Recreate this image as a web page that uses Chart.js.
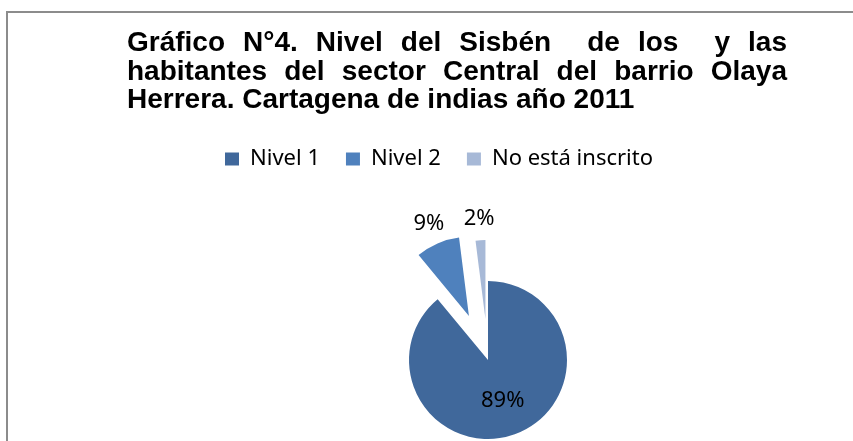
<!DOCTYPE html>
<html>

<head>
    <meta charset="utf-8">
    <title>Gráfico N°4. Nivel del Sisbén</title>
    <script src="https://cdn.jsdelivr.net/npm/chart.js@4.4.0/dist/chart.umd.min.js"></script>
    <style>
        html, body { margin: 0; padding: 0; width: 853px; height: 441px; overflow: hidden; background: #fff; }
        #frame { position: absolute; left: 6px; top: 11px; width: 900px; height: 500px; border: 2px solid #8c8c8c; box-sizing: border-box; }
        #title { position: absolute; left: 127px; top: 28px; width: 660px;
                 font: bold 28px "Liberation Sans", Arial, sans-serif; line-height: 28.5px; color: #000; z-index: 2; }
        #title div { white-space: pre-wrap; }
        #title .j { text-align: justify; text-align-last: justify; }
        #wrap { position: absolute; left: 0; top: 0; width: 853px; height: 560px; }
    </style>
</head>

<body>
    <div id="frame"></div>
    <div id="title">
        <div class="j">Gráfico N°4. Nivel del Sisbén  de los  y las</div>
        <div class="j">habitantes del sector Central del barrio Olaya</div>
        <div>Herrera. Cartagena de indias año 2011</div>
    </div>
    <div id="wrap"><canvas id="pie"></canvas></div>

    <script>
        // Data
        var categories = ['Nivel 1', 'Nivel 2', 'No está inscrito'];
        var shares = [89, 9, 2];
        var sliceColors = ['#40689B', '#4F81BD', '#A7B9D7'];
        var explode = [0, 48, 41];   // how far each slice is pulled out, px

        // Draw slices pulled out along their middle angle, then the % labels
        var explodePlugin = {
            id: 'explode',
            beforeDatasetDraw: function (chart, args) {
                var ctx = chart.ctx;
                args.meta.data.forEach(function (arc, i) {
                    var mid = (arc.startAngle + arc.endAngle) / 2;
                    ctx.save();
                    ctx.translate(Math.cos(mid) * explode[i], Math.sin(mid) * explode[i]);
                    arc.draw(ctx);
                    ctx.restore();
                });
                return false;
            },
            afterDatasetsDraw: function (chart) {
                var ctx = chart.ctx;
                var meta = chart.getDatasetMeta(0);
                var total = shares.reduce(function (a, b) { return a + b; }, 0);
                ctx.save();
                ctx.font = "22px 'Noto Sans', sans-serif";
                ctx.fillStyle = '#000';
                ctx.textAlign = 'center';
                ctx.textBaseline = 'middle';
                meta.data.forEach(function (arc, i) {
                    var mid = (arc.startAngle + arc.endAngle) / 2;
                    var frac = shares[i] / total;
                    var r = frac > 0.25 ? arc.outerRadius * 0.55 : arc.outerRadius + 22;
                    var d = explode[i] + r;
                    ctx.fillText(Math.round(frac * 100) + '%', arc.x + Math.cos(mid) * d, arc.y + Math.sin(mid) * d);
                });
                ctx.restore();
            }
        };

        new Chart(document.getElementById('pie'), {
            type: 'pie',
            data: {
                labels: categories,
                datasets: [{
                    data: shares,
                    backgroundColor: sliceColors,
                    borderWidth: 0
                }]
            },
            options: {
                responsive: true,
                maintainAspectRatio: false,
                animation: false,
                radius: 79,
                layout: { padding: { left: 199, right: 76, top: 122, bottom: 20 } },
                plugins: {
                    legend: {
                        position: 'top',
                        align: 'start',
                        labels: {
                            boxWidth: 14,
                            boxHeight: 13,
                            padding: 26,
                            color: '#000',
                            font: { family: "'Noto Sans', sans-serif", size: 22 }
                        }
                    },
                    tooltip: { enabled: false }
                }
            },
            plugins: [explodePlugin]
        });
    </script>
</body>

</html>
